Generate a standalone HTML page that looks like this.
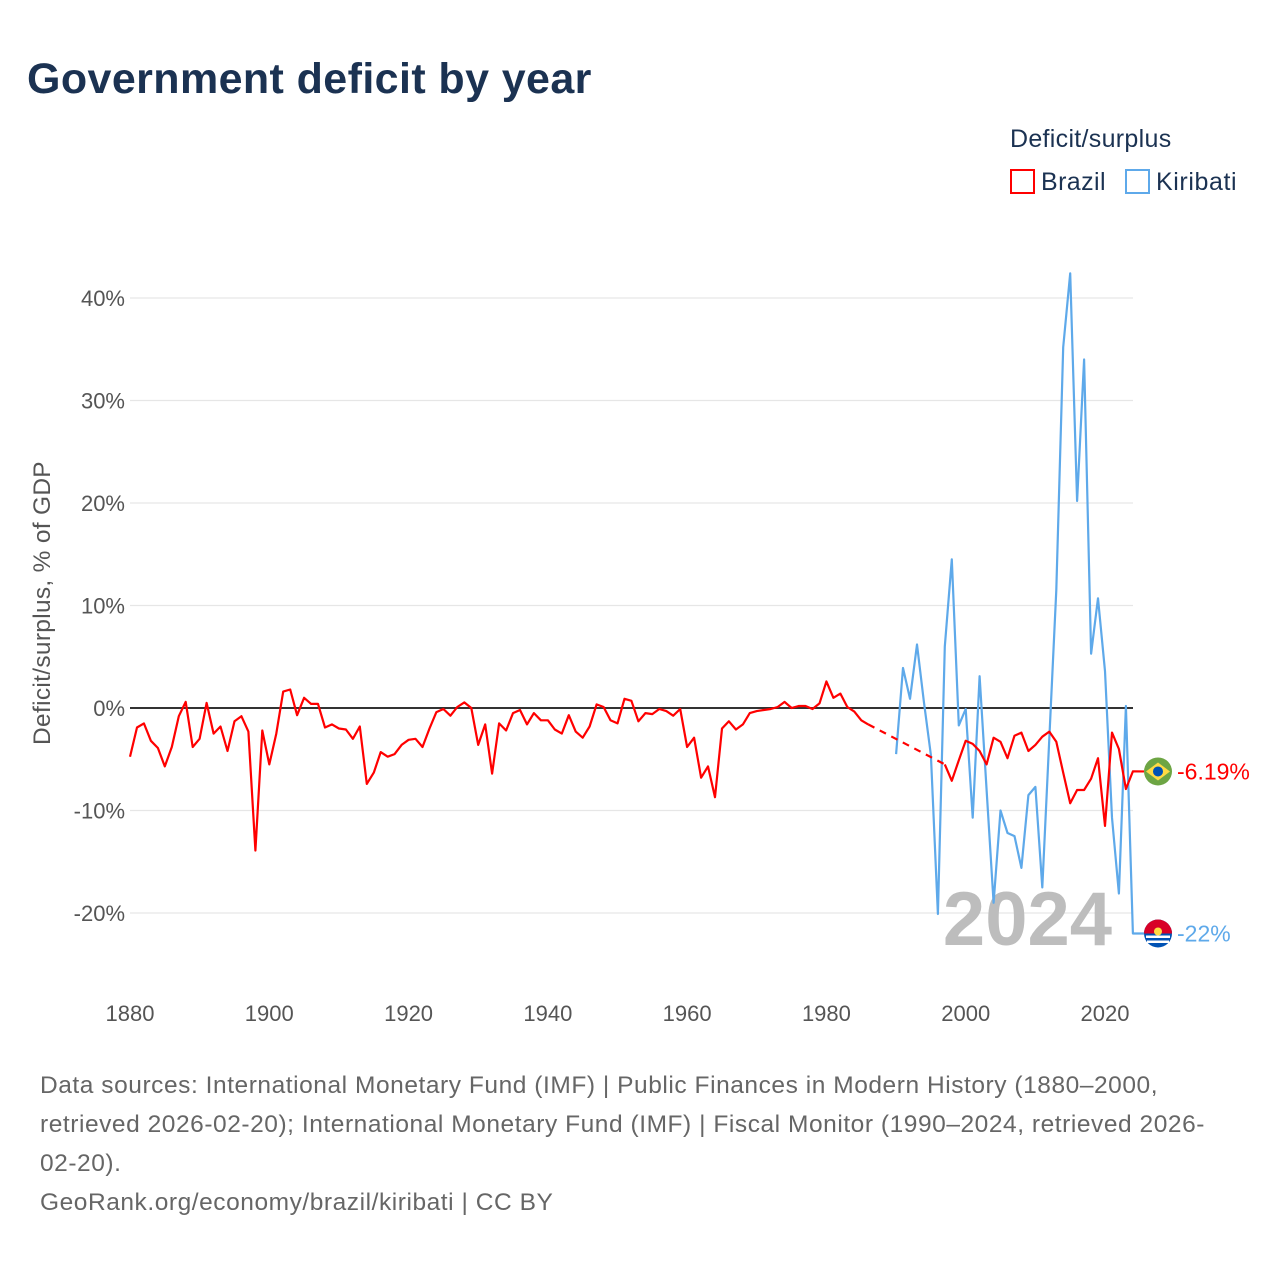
<!DOCTYPE html>
<html><head><meta charset="utf-8"><style>
body{margin:0;background:#fff;font-family:"Liberation Sans",sans-serif;}
#wrap{position:relative;width:1280px;height:1280px;overflow:hidden;}
</style></head><body>
<div id="wrap">
<svg id="chart" width="1280" height="1280" xmlns="http://www.w3.org/2000/svg">
<text x="27" y="93" font-size="43" font-weight="bold" fill="#1b3252" letter-spacing="0.4">Government deficit by year</text>
<text x="1010" y="147" font-size="25" fill="#1b3252" letter-spacing="0.3">Deficit/surplus</text>
<g><rect x="1011" y="170" width="23" height="23" fill="none" stroke="#ff0000" stroke-width="2"/><text x="1041" y="190" font-size="25" fill="#1b3252" letter-spacing="0.4">Brazil</text></g>
<g><rect x="1126" y="170" width="23" height="23" fill="none" stroke="#5ea9ea" stroke-width="2"/><text x="1156" y="190" font-size="25" fill="#1b3252" letter-spacing="0.6">Kiribati</text></g>
<text transform="translate(50,603) rotate(-90)" text-anchor="middle" font-size="24.5" fill="#555" letter-spacing="0.3">Deficit/surplus, % of GDP</text>
<g id="grid"></g>
<text x="1112" y="945" text-anchor="end" font-size="76" font-weight="bold" fill="#bdbdbd">2024</text>
<g id="series"></g>
<g id="ends"></g>
<g font-size="24.5" fill="#666" letter-spacing="0.55">
<text x="40" y="1093">Data sources: International Monetary Fund (IMF) | Public Finances in Modern History (1880–2000,</text>
<text x="40" y="1132">retrieved 2026-02-20); International Monetary Fund (IMF) | Fiscal Monitor (1990–2024, retrieved 2026-</text>
<text x="40" y="1171">02-20).</text>
<text x="40" y="1210">GeoRank.org/economy/brazil/kiribati | CC BY</text>
</g>
</svg>
</div>
<script>
const yTicks=[-20,-10,0,10,20,30,40];
const xTicks=[1880,1900,1920,1940,1960,1980,2000,2020];
const brazilYears1=[1880,1881,1882,1883,1884,1885,1886,1887,1888,1889,1890,1891,1892,1893,1894,1895,1896,1897,1898,1899,1900,1901,1902,1903,1904,1905,1906,1907,1908,1909,1910,1911,1912,1913,1914,1915,1916,1917,1918,1919,1920,1921,1922,1923,1924,1925,1926,1927,1928,1929,1930,1931,1932,1933,1934,1935,1936,1937,1938,1939,1940,1941,1942,1943,1944,1945,1946,1947,1948,1949,1950,1951,1952,1953,1954,1955,1956,1957,1958,1959,1960,1961,1962,1963,1964,1965,1966,1967,1968,1969,1970,1971,1972,1973,1974,1975,1976,1977,1978,1979,1980,1981,1982,1983,1984,1985,1986];
const brazilValues1=[-4.75,-1.9,-1.5,-3.2,-3.9,-5.7,-3.8,-0.8,0.6,-3.8,-3.0,0.5,-2.5,-1.8,-4.2,-1.3,-0.8,-2.3,-13.9,-2.2,-5.5,-2.5,1.6,1.8,-0.7,1.0,0.4,0.4,-1.9,-1.6,-2.0,-2.1,-3.0,-1.8,-7.4,-6.3,-4.3,-4.75,-4.5,-3.6,-3.1,-3.0,-3.8,-2.0,-0.4,-0.1,-0.75,0.1,0.55,0,-3.6,-1.6,-6.4,-1.5,-2.2,-0.5,-0.2,-1.6,-0.5,-1.2,-1.2,-2.1,-2.5,-0.7,-2.3,-2.9,-1.8,0.35,0.1,-1.2,-1.5,0.9,0.7,-1.3,-0.5,-0.6,-0.1,-0.3,-0.75,-0.1,-3.8,-2.9,-6.8,-5.7,-8.7,-2.0,-1.3,-2.1,-1.6,-0.5,-0.3,-0.2,-0.1,0.1,0.6,0,0.2,0.2,-0.1,0.45,2.6,1.0,1.4,0.1,-0.35,-1.2,-1.6];
const brazilYears2=[1997,1998,1999,2000,2001,2002,2003,2004,2005,2006,2007,2008,2009,2010,2011,2012,2013,2014,2015,2016,2017,2018,2019,2020,2021,2022,2023,2024];
const brazilValues2=[-5.5,-7.1,-5.1,-3.2,-3.5,-4.2,-5.5,-2.9,-3.3,-4.9,-2.7,-2.4,-4.2,-3.6,-2.8,-2.3,-3.3,-6.3,-9.3,-8.0,-8.0,-6.9,-4.9,-11.5,-2.4,-4.0,-7.9,-6.19];
const kiribatiYears=[1990,1991,1992,1993,1994,1995,1996,1997,1998,1999,2000,2001,2002,2003,2004,2005,2006,2007,2008,2009,2010,2011,2012,2013,2014,2015,2016,2017,2018,2019,2020,2021,2022,2023,2024];
const kiribatiValues=[-4.5,3.9,0.9,6.2,0.6,-4.6,-20.1,6.0,14.5,-1.7,-0.1,-10.7,3.1,-8,-19.0,-10.0,-12.2,-12.5,-15.6,-8.5,-7.7,-17.5,-3,11.5,35.2,42.4,20.2,34.0,5.3,10.7,3.6,-10.7,-18.1,0.2,-22.0];
const endLabels=["-6.19%","-22%"];

const NS="http://www.w3.org/2000/svg";
const X0=130,X1=1133,Y0=708,XE=1144;
const xs=y=>X0+(y-1880)*(1105-130)/140;
const ys=v=>Y0-v*10.25;
function mk(tag,attrs,parent){const e=document.createElementNS(NS,tag);for(const k in attrs)e.setAttribute(k,attrs[k]);parent.appendChild(e);return e;}
const grid=document.getElementById('grid');
yTicks.forEach(t=>{
  const l=mk('line',{x1:X0,x2:X1,y1:ys(t),y2:ys(t),stroke:t===0?'#333':'#e6e6e6','stroke-width':t===0?2:1.2},grid);
  
  
  const tx=mk('text',{x:125,y:ys(t)+8,'text-anchor':'end','font-size':22,fill:'#555'},grid);
  tx.textContent=t+'%';
  
  
});
xTicks.forEach(t=>{
  const tx=mk('text',{x:xs(t),y:1021,'text-anchor':'middle','font-size':22,fill:'#555'},grid);
  tx.textContent=t;
  
  
});
const series=document.getElementById('series');
function path(yrs,vals){return yrs.map((y,i)=>(i?'L':'M')+xs(y).toFixed(1)+','+ys(vals[i]).toFixed(1)).join('');}
const k=mk('path',{d:path(kiribatiYears,kiribatiValues)+'L'+XE+','+ys(kiribatiValues[kiribatiValues.length-1]),fill:'none',stroke:'#5ea9ea','stroke-width':2.2,'stroke-linejoin':'round'},series);


const b1=mk('path',{d:path(brazilYears1,brazilValues1),fill:'none',stroke:'#ff0000','stroke-width':2.2,'stroke-linejoin':'round'},series);


const lb=brazilYears1.length-1;
const bd=mk('line',{x1:xs(brazilYears1[lb]),y1:ys(brazilValues1[lb]),x2:xs(brazilYears2[0]),y2:ys(brazilValues2[0]),stroke:'#ff0000','stroke-width':2.2,'stroke-dasharray':'7,6'},series);


const b2=mk('path',{d:path(brazilYears2,brazilValues2)+'L'+XE+','+ys(brazilValues2[brazilValues2.length-1]),fill:'none',stroke:'#ff0000','stroke-width':2.2,'stroke-linejoin':'round'},series);


const ends=document.getElementById('ends');
const by=ys(brazilValues2[brazilValues2.length-1]);
const g1=mk('g',{},ends);


mk('circle',{cx:1158,cy:by,r:14,fill:'#6da544'},g1);
mk('polygon',{points:`1146,${by} 1158,${by-9} 1170,${by} 1158,${by+9}`,fill:'#ffda44'},g1);
mk('circle',{cx:1158,cy:by,r:5,fill:'#0052b4'},g1);
const t1=mk('text',{x:1177,y:by+8,'font-size':23,fill:'#ff0000'},ends);
t1.textContent=endLabels[0];


const ky=ys(kiribatiValues[kiribatiValues.length-1]);
const g2=mk('g',{},ends);


mk('circle',{cx:1158,cy:ky,r:14,fill:'#0052b4'},g2);
mk('path',{d:`M1144,${ky} A14,14 0 0 1 1172,${ky} Z`,fill:'#d80027'},g2);
mk('rect',{x:1146,y:ky+2,width:24,height:2.5,fill:'#fff'},g2);
mk('rect',{x:1147,y:ky+7,width:22,height:2.5,fill:'#fff'},g2);
mk('circle',{cx:1158,cy:ky-2,r:4,fill:'#ffda44'},g2);
const t2=mk('text',{x:1177,y:ky+8,'font-size':23,fill:'#5ea9ea'},ends);
t2.textContent=endLabels[1];


</script>
</body></html>
